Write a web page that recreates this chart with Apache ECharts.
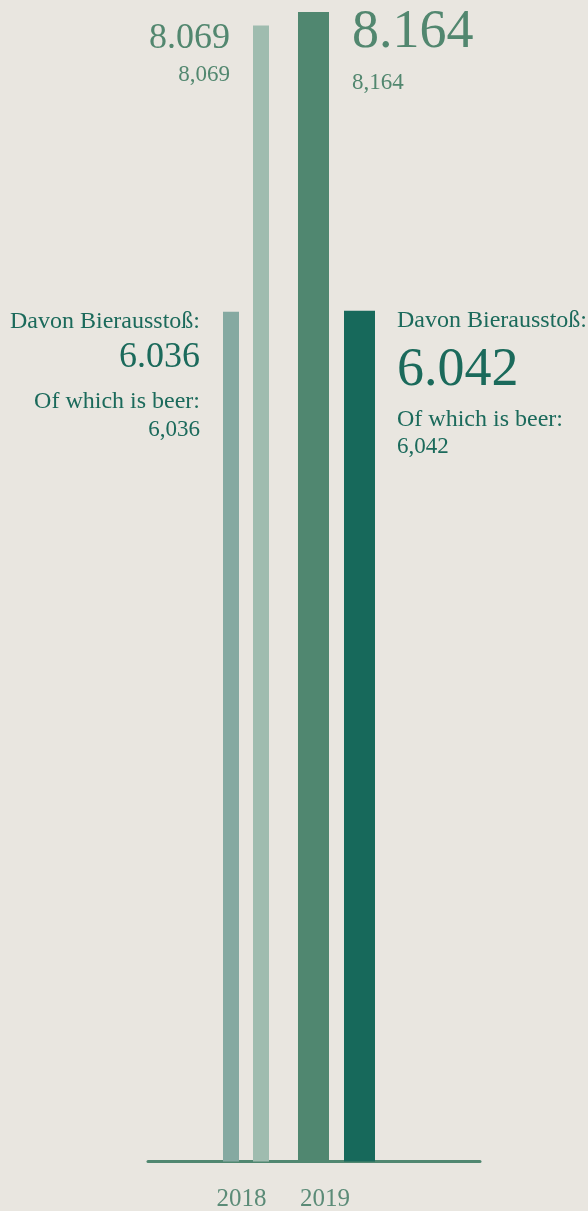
<!DOCTYPE html>
<html>
<head>
<meta charset="utf-8">
<title>Bierausstoß</title>
<script src="https://cdn.jsdelivr.net/npm/echarts@6/dist/echarts.min.js"></script>
<style>
    html, body {margin: 0; padding: 0; background: #e9e6e0;}
    #chartBox {width: 588px; height: 1211px;}
</style>
</head>
<body>
<div id="chartBox"></div>
<script>
// Daten
const years = ['2018', '2019'];
const totalOutput = [8069, 8164];
const beerOutput = [6036, 6042];
const beerTitleDe = 'Davon Bierausstoß:';
const beerTitleEn = 'Of which is beer:';

const font = '"Liberation Serif", serif';
const colTotalText = '#52876f';
const colBeerText = '#1b6a5b';

// 8069 -> 8.069 / 8,069
function fmt(v, sep) {
    return String(v).replace(/\B(?=(\d{3})+(?!\d))/g, sep);
}

function totalLabel(bigSize, h1, h2, pos, align) {
    return {
        show: true, position: pos, align: align, verticalAlign: 'top',
        formatter: function (p) {
            return '{big|' + fmt(p.value, '.') + '}\n{small|' + fmt(p.value, ',') + '}';
        },
        rich: {
            big: {fontFamily: font, fontSize: bigSize, lineHeight: h1, color: colTotalText},
            small: {fontFamily: font, fontSize: 23, lineHeight: h2, color: colTotalText}
        }
    };
}

function beerLabel(bigSize, hs, pos, align) {
    return {
        show: true, position: pos, align: align, verticalAlign: 'top',
        formatter: function (p) {
            return '{t|' + beerTitleDe + '}\n{big|' + fmt(p.value, '.') + '}\n{t2|' + beerTitleEn + '}\n{small|' + fmt(p.value, ',') + '}';
        },
        rich: {
            t: {fontFamily: font, fontSize: 24, lineHeight: hs[0], color: colBeerText},
            big: {fontFamily: font, fontSize: bigSize, lineHeight: hs[1], color: colBeerText},
            t2: {fontFamily: font, fontSize: 24, lineHeight: hs[2], color: colBeerText},
            small: {fontFamily: font, fontSize: 23, lineHeight: hs[3], color: colBeerText}
        }
    };
}

function xAxisFor(i, padRight) {
    return {
        type: 'category', gridIndex: i, data: [years[i]],
        axisLine: {show: true, lineStyle: {color: '#508770', width: 3}},
        axisTick: {show: false},
        splitLine: {show: false},
        axisLabel: {
            fontFamily: font, fontSize: 25, lineHeight: 26, color: '#5b8b77',
            margin: 25, padding: [0, padRight, 0, 0]
        }
    };
}

function yAxisFor(i) {
    return {
        type: 'value', gridIndex: i, min: 0, max: 8250,
        axisLine: {show: false}, axisTick: {show: false},
        axisLabel: {show: false}, splitLine: {show: false}
    };
}

let chartBox = echarts.init(document.getElementById('chartBox'));
let option = {
    backgroundColor: '#e9e6e0',
    animation: false,
    grid: [
        {left: 148, width: 196, top: 0, bottom: 49.5, outerBoundsMode: 'none'},
        {left: 193, width: 287, top: 0, bottom: 49.5, outerBoundsMode: 'none'}
    ],
    xAxis: [xAxisFor(0, 9), xAxisFor(1, 23)],
    yAxis: [yAxisFor(0), yAxisFor(1)],
    series: [
        {
            type: 'bar', name: 'beer ' + years[0], xAxisIndex: 0, yAxisIndex: 0,
            barWidth: 16, barGap: '87.5%',
            itemStyle: {color: '#85a9a1'},
            label: beerLabel(36, [20, 51, 38, 18], [-23, 0], 'right'),
            data: [beerOutput[0]]
        },
        {
            type: 'bar', name: 'total ' + years[0], xAxisIndex: 0, yAxisIndex: 0,
            barWidth: 16, barGap: '87.5%',
            itemStyle: {color: '#9fbcaf'},
            label: totalLabel(36, 40, 33, [-23, -7], 'right'),
            data: [totalOutput[0]]
        },
        {
            type: 'bar', name: 'total ' + years[1], xAxisIndex: 1, yAxisIndex: 1,
            barWidth: 31, barGap: '48.4%',
            itemStyle: {color: '#508770'},
            label: totalLabel(54, 56, 43, [54, -7], 'left'),
            data: [totalOutput[1]]
        },
        {
            type: 'bar', name: 'beer ' + years[1], xAxisIndex: 1, yAxisIndex: 1,
            barWidth: 31, barGap: '48.4%',
            itemStyle: {color: '#17695b'},
            label: beerLabel(54, [26, 73, 26, 28], [53, -3], 'left'),
            data: [beerOutput[1]]
        }
    ]
};
chartBox.setOption(option, true);
</script>
</body>
</html>
